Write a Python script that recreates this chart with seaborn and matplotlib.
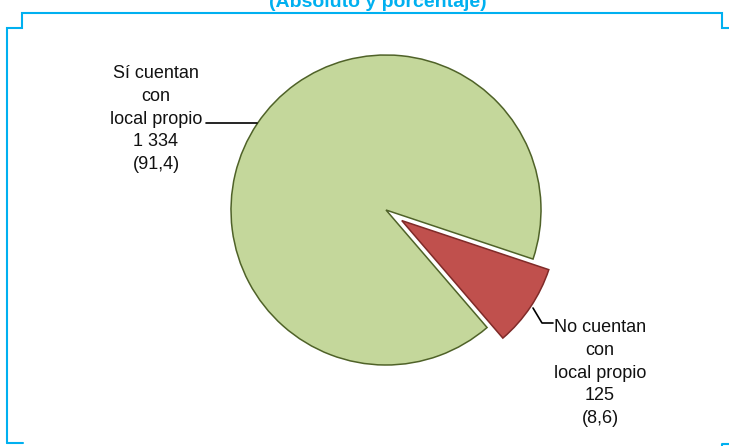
import seaborn as sns
import matplotlib.pyplot as plt

# Local propio: cuentan / no cuentan
categories = ["No cuentan\ncon\nlocal propio", "Sí cuentan\ncon\nlocal propio"]
counts = [125, 1334]
title = "(Absoluto y porcentaje)"

colors = ["#C0504D", "#C4D79B"]
edges = ["#7F2A28", "#4F6228"]
frame_blue = "#00B0F0"


def fmt_label(cat, n, total):
    pct = f"{n / total * 100:.1f}".replace(".", ",")
    num = f"{n:,}".replace(",", " ")
    return f"{cat}\n{num}\n({pct})"


def main():
    sns.set_theme(style="white")
    plt.rcParams["font.family"] = ["Liberation Sans", "DejaVu Sans"]

    fig = plt.figure(figsize=(7.29, 4.46), dpi=100)
    ax = fig.add_axes([0, 0, 1, 1])

    wedges, _ = ax.pie(
        counts,
        colors=colors,
        startangle=-49.3,
        explode=[19, 0],
        radius=155,
        center=(386, 236),
        wedgeprops=dict(linewidth=1.1),
    )
    for w, ec in zip(wedges, edges):
        w.set_edgecolor(ec)

    ax.set_xlim(0, 729)
    ax.set_ylim(0, 446)
    ax.set_aspect("equal")
    ax.axis("off")

    total = sum(counts)
    # labels with leader lines
    ax.text(156, 327, fmt_label(categories[1], counts[1], total), ha="center", va="center",
            multialignment="center", fontsize=13, linespacing=1.45, color="#111111")
    ax.plot([206, 257], [323, 323], color="black", lw=1.2)

    ax.text(600, 73, fmt_label(categories[0], counts[0], total), ha="center", va="center",
            multialignment="center", fontsize=13, linespacing=1.45, color="#111111")
    ax.plot([533, 542, 553], [138, 123, 123], color="black", lw=1.2)

    # title (cut at the top, as in the source) and frame
    ax.text(378, 439, title, ha="center", va="baseline", fontsize=14, fontweight="bold",
            color=frame_blue)
    lw = 1.5
    ax.plot([7.3, 7.3, 22.3, 22.3, 722.3, 722.3, 729], [2.7, 417.7, 417.7, 432.7, 432.7, 417.7, 417.7],
            color=frame_blue, lw=lw, solid_joinstyle="miter")
    ax.plot([7.3, 23.3], [2.7, 2.7], color=frame_blue, lw=lw)
    ax.plot([722.3, 722.3, 729], [0, 2.5, 2.5], color=frame_blue, lw=lw)

    fig.savefig("out.png", dpi=100)


if __name__ == "__main__":
    main()
